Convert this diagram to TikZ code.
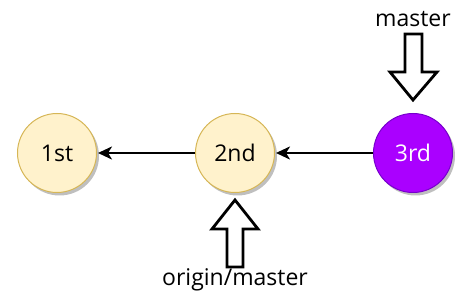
\documentclass[tikz,border=0pt]{standalone}
\usepackage{fontspec}
\setmainfont{Open Sans}
\usetikzlibrary{arrows.meta,shadows}
\definecolor{cfill}{HTML}{FFF2CC}
\definecolor{cdraw}{HTML}{D6B656}
\definecolor{pfill}{HTML}{AA00FF}
\definecolor{pdraw}{HTML}{7700CC}
\begin{document}
\begin{tikzpicture}[x=1pt,y=-1pt,
  commit/.style={circle,minimum size=79pt,inner sep=0pt,draw=cdraw,fill=cfill,line width=1pt,
     font=\fontsize{23}{26}\selectfont,
     drop shadow={shadow xshift=2.5pt,shadow yshift=-3pt,opacity=0.25,fill=black}},
  head/.style={commit,draw=pdraw,fill=pfill,text=white},
  link/.style={line width=2.6pt,-{Stealth[length=14pt,width=13pt,inset=4pt]},shorten >=1pt},
  blockarrow/.style={draw=black,fill=white,line width=2.8pt,line join=miter},
  lbl/.style={font=\fontsize{23}{26}\selectfont,inner sep=0pt}]
\useasboundingbox (0,0) rectangle (474,307);
\node[commit] (c1) at (57,153) {1st};
\node[commit] (c2) at (235,153) {2nd};
\node[head] (c3) at (413,153) {3rd};
\draw[link] (c3) -- (c2);
\draw[link] (c2) -- (c1);
% master pointer
\node[lbl] (m) at (413,19) {master};
\coordinate (mtip) at (413,100);
\draw[blockarrow] (405,34) -- (422,34) -- (422,72) -- (437,72) -- (mtip) -- (390,72) -- (405,72) -- cycle;
% origin/master pointer
\node[lbl] (om) at (235,280) {origin/master};
\coordinate (otip) at (235,200);
\draw[blockarrow] (227,267) -- (243,267) -- (243,229) -- (258,229) -- (otip) -- (212,229) -- (227,229) -- cycle;
\end{tikzpicture}
\end{document}
